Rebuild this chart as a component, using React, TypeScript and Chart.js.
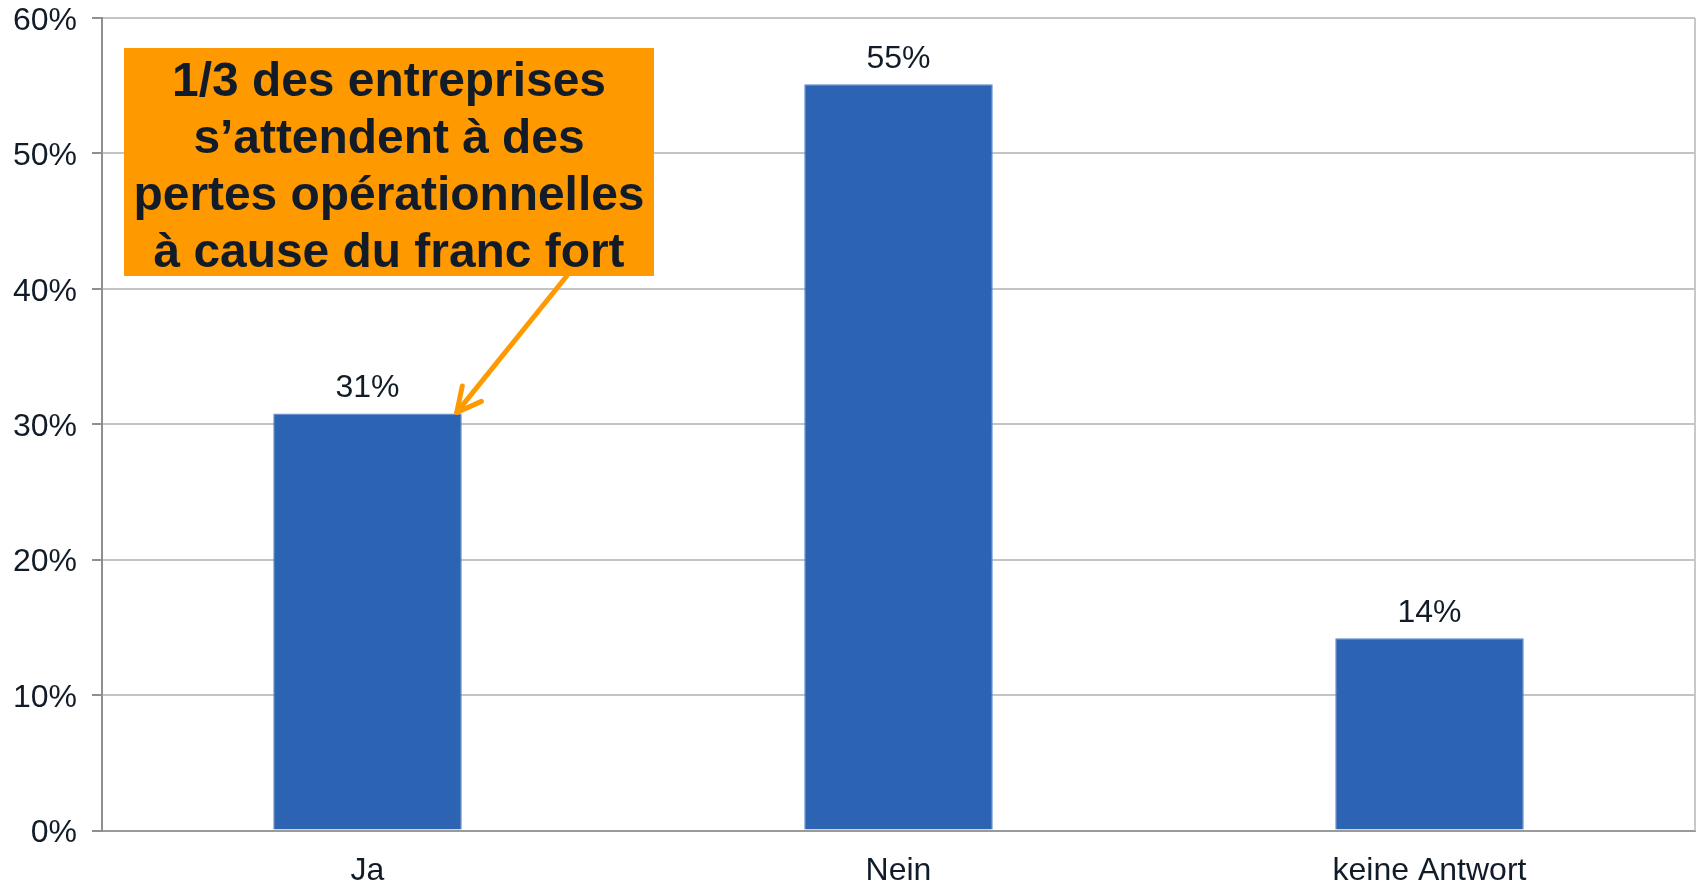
import React, { useEffect, useRef } from "react";
import { Chart, registerables } from "chart.js";

Chart.register(...registerables);

const categories = ["Ja", "Nein", "keine Antwort"];
const shares = [30.8, 55.1, 14.2];
const yTicks = [0, 10, 20, 30, 40, 50, 60];
const calloutLines = [
  "1/3 des entreprises",
  "s\u2019attendent \u00e0 des",
  "pertes op\u00e9rationnelles",
  "\u00e0 cause du franc fort",
];

const FONT = '"Liberation Sans", Arial, Helvetica, sans-serif';
const TEXT = "#121c28";
const ORANGE = "#ff9900";

const overlayPlugin = {
  id: "overlay",
  afterDatasetsDraw(chart: any) {
    const { ctx, chartArea } = chart;
    const meta = chart.getDatasetMeta(0);
    ctx.save();
    // right border of plot area
    ctx.strokeStyle = "#c8c8c8";
    ctx.lineWidth = 2;
    ctx.beginPath();
    ctx.moveTo(chartArea.right, chartArea.top);
    ctx.lineTo(chartArea.right, chartArea.bottom);
    ctx.stroke();

    // value labels
    ctx.fillStyle = TEXT;
    ctx.font = `32px ${FONT}`;
    ctx.textAlign = "center";
    ctx.textBaseline = "middle";
    meta.data.forEach((bar: any, i: number) => {
      ctx.fillText(`${Math.round(shares[i])}%`, bar.x, bar.y - 25);
    });

    // callout box
    const bx = chartArea.left + 22;
    const by = chartArea.top + 30;
    const bw = 530;
    const bh = 228;
    ctx.fillStyle = ORANGE;
    ctx.fillRect(bx, by, bw, bh);
    ctx.fillStyle = TEXT;
    ctx.font = `bold 48px ${FONT}`;
    ctx.textAlign = "center";
    ctx.textBaseline = "alphabetic";
    const ref = ctx.measureText(calloutLines[2]).width;
    const sx = 511 / ref;
    const cx = bx + bw / 2;
    calloutLines.forEach((line, i) => {
      ctx.save();
      ctx.translate(cx, by + 47.5 + i * 57);
      ctx.scale(sx, 1);
      ctx.fillText(line, 0, 0);
      ctx.restore();
    });

    // arrow to the "Ja" bar
    const ja = meta.data[0] as any;
    const tipX = ja.x + ja.width / 2 - 5;
    const tipY = ja.y - 1;
    const startX = tipX + 110;
    const startY = by + bh;
    ctx.strokeStyle = ORANGE;
    ctx.lineWidth = 5;
    ctx.lineCap = "round";
    ctx.lineJoin = "round";
    ctx.beginPath();
    ctx.moveTo(startX, startY);
    ctx.lineTo(tipX, tipY);
    ctx.stroke();
    const ang = Math.atan2(startY - tipY, startX - tipX);
    const armLen = 27;
    const spread = (27 * Math.PI) / 180;
    ctx.beginPath();
    ctx.moveTo(tipX + armLen * Math.cos(ang - spread), tipY + armLen * Math.sin(ang - spread));
    ctx.lineTo(tipX, tipY);
    ctx.lineTo(tipX + armLen * Math.cos(ang + spread), tipY + armLen * Math.sin(ang + spread));
    ctx.stroke();
    ctx.restore();
  },
};

export default function App() {
  const canvasRef = useRef<HTMLCanvasElement | null>(null);

  useEffect(() => {
    if (!canvasRef.current) return;
    const chart = new Chart(canvasRef.current, {
      type: "bar",
      data: {
        labels: categories,
        datasets: [
          {
            data: shares,
            backgroundColor: "#2c63b2",
            borderColor: "#5a8ad0",
            borderWidth: 1,
            categoryPercentage: 1,
            barPercentage: 0.355,
          },
        ],
      },
      options: {
        responsive: false,
        animation: false,
        layout: { padding: { top: 18, right: 4, left: 0, bottom: 0 } },
        plugins: {
          legend: { display: false },
          tooltip: { enabled: false },
          title: { display: false },
        },
        scales: {
          x: {
            grid: { display: false, drawTicks: false },
            border: { display: true, color: "#9a9a9a", width: 2 },
            ticks: {
              color: TEXT,
              font: { family: FONT, size: 32 },
              padding: 21,
            },
            afterFit: (scale: any) => {
              scale.height = 53.5;
              scale.paddingLeft = 0;
              scale.paddingRight = 0;
            },
          },
          y: {
            min: 0,
            max: 60,
            afterBuildTicks: (scale: any) => {
              scale.ticks = yTicks.map((v) => ({ value: v }));
            },
            grid: {
              color: "#c4c4c4",
              lineWidth: 2,
              tickLength: 10,
              tickColor: "#8f8f8f",
            },
            border: { display: true, color: "#8f8f8f", width: 2 },
            ticks: {
              color: TEXT,
              font: { family: FONT, size: 32 },
              padding: 15,
              labelOffset: 3,
              callback: (v: any) => `${v}%`,
            },
            afterFit: (scale: any) => {
              scale.width = 102;
              scale.paddingTop = 0;
              scale.paddingBottom = 0;
            },
          },
        },
      },
      plugins: [overlayPlugin],
    });
    return () => chart.destroy();
  }, []);

  return (
    <div style={{ position: "absolute", left: 0, top: 0, width: 1699, height: 884, background: "#fff" }}>
      <canvas ref={canvasRef} width={1699} height={884} />
    </div>
  );
}
